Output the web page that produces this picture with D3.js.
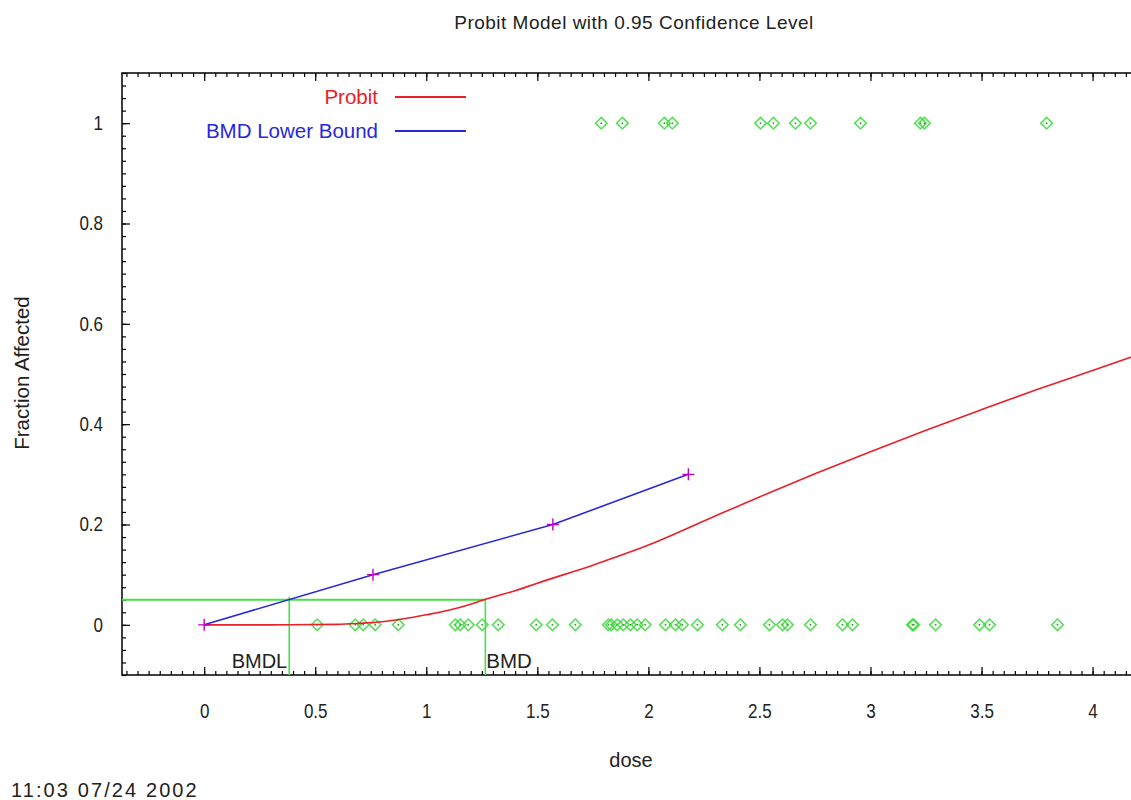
<!DOCTYPE html>
<html><head><meta charset="utf-8">
<script src="https://cdn.jsdelivr.net/npm/d3@7"></script>
<style>
body{margin:0;background:#fff;}
text{font-family:"Liberation Sans","Arial",sans-serif;}
</style></head>
<body><svg id="c" width="1131" height="800"></svg>
<script>
// ---- data ----
const xTicks = [0, 0.5, 1, 1.5, 2, 2.5, 3, 3.5, 4];
const yTicks = [0, 0.2, 0.4, 0.6, 0.8, 1];
const probitDose = [0, 0.3, 0.6, 0.7, 0.8, 0.9, 1.0, 1.1, 1.2, 1.26, 1.4, 1.5, 1.75, 2.0, 2.25, 2.5, 2.75, 3.0, 3.25, 3.5, 3.75, 4.0, 4.2];
const probitFrac = [0, 0, 0.001, 0.003, 0.006, 0.012, 0.02, 0.029, 0.041, 0.05, 0.068, 0.083, 0.119, 0.159, 0.207, 0.255, 0.301, 0.345, 0.388, 0.429, 0.469, 0.507, 0.538];
const bmdlDose = [0, 0.76, 1.57, 2.18];
const bmdlFrac = [0, 0.1, 0.2, 0.3];
const affectedDose = [1.788, 1.883, 2.072, 2.108, 2.505, 2.563, 2.662, 2.730, 2.955, 3.225, 3.243, 3.793];
const unaffectedDose = [0.509, 0.680, 0.716, 0.770, 0.874, 1.131, 1.153, 1.189, 1.252, 1.324, 1.495, 1.568, 1.671, 1.820, 1.833, 1.860, 1.887, 1.919, 1.950, 1.986, 2.077, 2.122, 2.153, 2.221, 2.333, 2.414, 2.545, 2.604, 2.626, 2.730, 2.874, 2.919, 3.189, 3.195, 3.293, 3.491, 3.536, 3.842];
const bmr = 0.05, bmd = 1.266, bmdl = 0.383;
const titleText = "Probit Model with 0.95 Confidence Level";

// ---- layout ----
const svg = d3.select("#c");
const L = 122, T = 73, B = 675, R = 1137;
const x = d3.scaleLinear().domain([-0.37, 4.2]).range([L, R]);
const y = d3.scaleLinear().domain([-0.1, 1.1]).range([B, T]);

const red = "#e8202a", blue = "#2828d8", green = "#44e044", magenta = "#c000c8", ink = "#222";

// frame
svg.append("rect").attr("x", L).attr("y", T).attr("width", R - L).attr("height", B - T)
  .attr("fill", "none").attr("stroke", "#000").attr("stroke-width", 1.5);

// axes with inward ticks
const fmt = d => d3.format("")(d);
const xMinor = d3.range(-0.35, 4.21, 0.05).map(v => +v.toFixed(2));
const yMinor = d3.range(-0.1, 1.101, 0.025).map(v => +v.toFixed(3));
function g(tr){ return svg.append("g").attr("transform", tr); }
const gxb = g(`translate(0,${B})`).call(d3.axisBottom(x).tickValues(xTicks).tickFormat(fmt).tickSize(-8).tickPadding(29));
const gxbm = g(`translate(0,${B})`).call(d3.axisBottom(x).tickValues(xMinor).tickFormat("").tickSize(-4));
const gxt = g(`translate(0,${T})`).call(d3.axisTop(x).tickValues(xTicks).tickFormat("").tickSize(-8));
const gxtm = g(`translate(0,${T})`).call(d3.axisTop(x).tickValues(xMinor).tickFormat("").tickSize(-4));
const gyl = g(`translate(${L},0)`).call(d3.axisLeft(y).tickValues(yTicks).tickFormat(fmt).tickSize(-8).tickPadding(20));
const gylm = g(`translate(${L},0)`).call(d3.axisLeft(y).tickValues(yMinor).tickFormat("").tickSize(-4));
[gxb, gxbm, gxt, gxtm, gyl, gylm].forEach(a => {
  a.select(".domain").remove();
  a.selectAll("line").attr("stroke", "#000").attr("stroke-width", 1.2);
  a.selectAll("text").attr("font-size", 20).attr("fill", ink)
   .attr("font-family", '"Liberation Sans",sans-serif');
});
// slightly condensed tick labels
gxb.selectAll("text").attr("transform", "scale(0.85,1)");
gyl.selectAll("text").attr("transform", "scale(0.85,1)").attr("x", -19 / 0.85);

// clip for plot
svg.append("clipPath").attr("id", "pc").append("rect").attr("x", L).attr("y", T).attr("width", R - L).attr("height", B - T);
const plot = svg.append("g").attr("clip-path", "url(#pc)");

// BMD lines
plot.append("line").attr("x1", L).attr("x2", x(bmd)).attr("y1", y(bmr)).attr("y2", y(bmr)).attr("stroke", green).attr("stroke-width", 2);
plot.append("line").attr("x1", x(bmdl)).attr("x2", x(bmdl)).attr("y1", B).attr("y2", y(bmr) - 3).attr("stroke", green).attr("stroke-width", 1.6);
plot.append("line").attr("x1", x(bmd)).attr("x2", x(bmd)).attr("y1", B).attr("y2", y(bmr)).attr("stroke", green).attr("stroke-width", 1.6);

// diamonds
function diamonds(doses, frac){
  const gg = plot.append("g");
  doses.forEach(d => {
    const cx = x(d), cy = y(frac), s = 5.8;
    gg.append("path").attr("d", `M${cx},${cy-s}L${cx+s},${cy}L${cx},${cy+s}L${cx-s},${cy}Z`)
      .attr("fill", "none").attr("stroke", "#3ed83e").attr("stroke-width", 1.6).attr("opacity", 0.85);
    gg.append("circle").attr("cx", cx).attr("cy", cy).attr("r", 1).attr("fill", "#3aa83a");
  });
}
diamonds(unaffectedDose, 0);
diamonds(affectedDose, 1);

// probit curve
const line = d3.line().x(d => x(d[0])).y(d => y(d[1]));
const smooth = d3.line().x(d => x(d[0])).y(d => y(d[1])).curve(d3.curveMonotoneX);
plot.append("path").datum(d3.zip(probitDose, probitFrac)).attr("d", smooth)
  .attr("fill", "none").attr("stroke", red).attr("stroke-width", 1.6);

// BMD lower bound
plot.append("path").datum(d3.zip(bmdlDose, bmdlFrac)).attr("d", line)
  .attr("fill", "none").attr("stroke", blue).attr("stroke-width", 1.6);
d3.zip(bmdlDose, bmdlFrac).forEach(p => {
  const cx = x(p[0]), cy = y(p[1]);
  plot.append("path").attr("d", `M${cx-6},${cy}H${cx+6}M${cx},${cy-6}V${cy+6}`)
    .attr("stroke", magenta).attr("stroke-width", 1.4);
});

// BMD labels
svg.append("text").attr("x", x(bmdl) - 2).attr("y", 668).attr("text-anchor", "end").attr("font-size", 20).attr("fill", ink).text("BMDL");
svg.append("text").attr("x", x(bmd) + 1).attr("y", 668).attr("font-size", 20.5).attr("fill", ink).text("BMD");

// legend
svg.append("text").attr("x", 378).attr("y", 104).attr("text-anchor", "end").attr("font-size", 20.5).attr("fill", red).text("Probit");
svg.append("line").attr("x1", 395).attr("x2", 466).attr("y1", 97).attr("y2", 97).attr("stroke", red).attr("stroke-width", 1.8);
svg.append("text").attr("x", 378).attr("y", 138).attr("text-anchor", "end").attr("font-size", 20.5).attr("fill", blue).text("BMD Lower Bound");
svg.append("line").attr("x1", 395).attr("x2", 466).attr("y1", 131).attr("y2", 131).attr("stroke", blue).attr("stroke-width", 1.8);

// titles
svg.append("text").attr("x", 634).attr("y", 29).attr("text-anchor", "middle").attr("font-size", 19).attr("letter-spacing", 0.5).attr("fill", ink).text(titleText);
svg.append("text").attr("x", 631).attr("y", 767).attr("text-anchor", "middle").attr("font-size", 20).attr("fill", ink).text("dose");
svg.append("text").attr("transform", "translate(29,373) rotate(-90)").attr("text-anchor", "middle").attr("font-size", 20.5).attr("fill", ink).text("Fraction Affected");
svg.append("text").attr("x", 11).attr("y", 797).attr("font-size", 20).attr("letter-spacing", 2.1).attr("fill", ink).text("11:03 07/24 2002");
</script></body></html>
